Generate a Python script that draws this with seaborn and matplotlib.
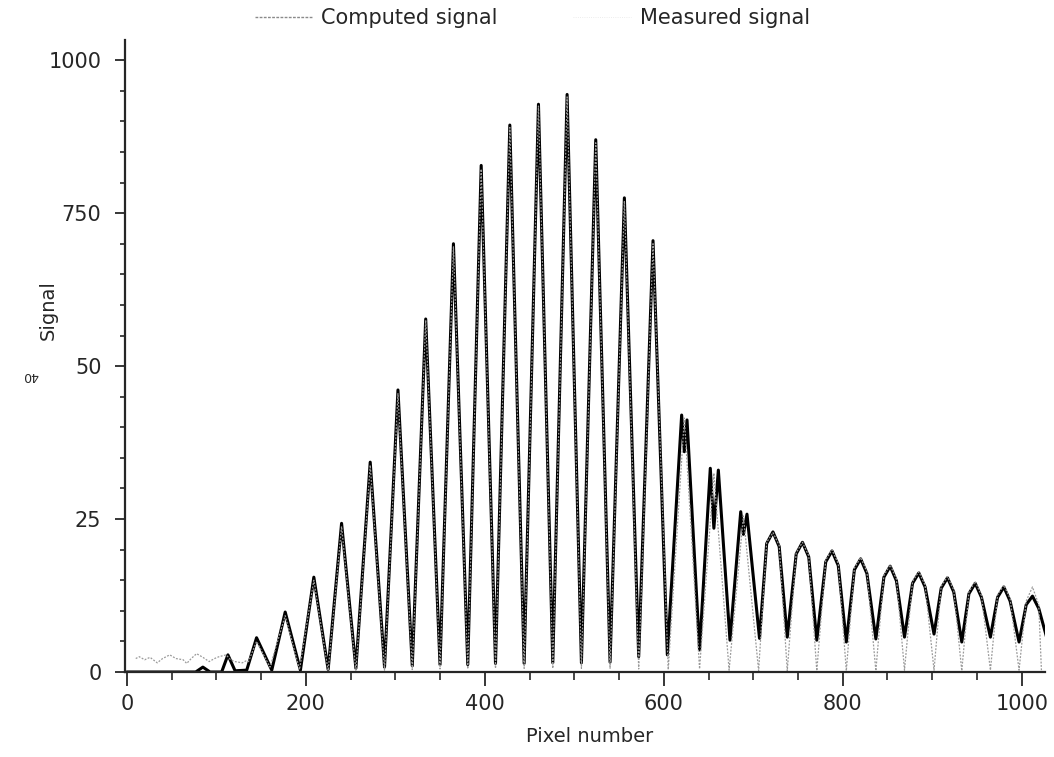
import numpy as np
import pandas as pd
import matplotlib
matplotlib.use("Agg")
import matplotlib.pyplot as plt
from matplotlib.lines import Line2D
from matplotlib.ticker import MultipleLocator, FixedLocator, FixedFormatter
import seaborn as sns

# measured signal (solid) - peaks, troughs and shoulders
meas_peak_x = [85, 113, 145, 177, 209, 240, 272, 303, 334, 365, 396, 428, 460, 492,
               524, 556, 588, 620, 626, 652, 661, 686, 693, 722, 755, 788, 820, 853,
               885, 917, 948, 980, 1012]
meas_peak_y = [8, 28, 56, 98, 155, 243, 343, 461, 577, 700, 828, 894, 928, 944,
               870, 775, 705, 420, 412, 333, 330, 262, 258, 229, 212, 198, 185, 173,
               162, 154, 145, 139, 124]
meas_trough_x = [0, 77, 93, 106, 121, 134, 162, 194, 225, 256, 288, 319, 350, 381,
                 412, 444, 476, 508, 540, 572, 604, 623, 640, 656, 674, 689, 707,
                 738, 771, 804, 837, 869, 902, 933, 965, 997, 1030]
meas_trough_y = [0, 0, 0, 0, 2, 3, 3, 3, 4, 6, 8, 10, 12, 12,
                 14, 14, 15, 15, 16, 25, 28, 360, 36, 235, 52, 225, 55,
                 57, 52, 49, 54, 57, 62, 49, 57, 49, 45]
shoulder_x = [715, 729, 748, 762, 781, 795, 813, 827, 846, 860, 878, 892, 910, 924,
              941, 955, 973, 987, 1005, 1019]
meas_shoulder_y = [210, 205, 193, 188, 180, 174, 167, 161, 155, 149, 145, 139, 137, 131,
                   128, 122, 122, 116, 110, 104]

# computed signal (dotted) - noisy baseline, peaks, troughs
comp_base_x = [10, 14, 20, 26, 34, 40, 48, 55, 63, 67, 72, 78, 85, 92, 98, 103,
               111, 116, 121, 129, 133, 136]
comp_base_y = [22, 25, 20, 24, 15, 22, 28, 22, 20, 14, 22, 30, 24, 17, 22, 25,
               28, 20, 17, 15, 18, 17]
comp_peak_x = [145, 177, 209, 240, 272, 303, 334, 365, 396, 428, 460, 492, 524, 556,
               588, 623, 656, 689, 722, 755, 788, 820, 853, 885, 917, 948, 980, 1012]
comp_peak_y = [50, 92, 150, 238, 338, 455, 575, 695, 822, 890, 925, 940, 865, 770,
               700, 415, 325, 255, 228, 212, 200, 187, 175, 164, 156, 148, 142, 139]
comp_trough_x = [160, 193, 225, 256, 288, 319, 350, 381, 412, 444, 476, 508, 540, 572,
                 605, 640, 673, 706, 738, 771, 804, 837, 869, 902, 933, 965, 997, 1022]
comp_trough_y = [8, 4, 2, 2, 3, 4, 5, 5, 6, 6, 6, 6, 6, 5,
                 4, 5, 3, 2, 2, 2, 2, 2, 3, 3, 2, 3, 3, 3]
comp_shoulder_y = [212, 207, 195, 190, 183, 177, 170, 164, 158, 152, 148, 142, 140, 134,
                   131, 125, 126, 120, 116, 110]

ytick_vals = [0, 250, 500, 750, 1000]
ytick_labels = ["0", "25", "50", "750", "1000"]
xtick_vals = [0, 200, 400, 600, 800, 1000]

measured = pd.DataFrame({
    "pixel": meas_peak_x + meas_trough_x + shoulder_x,
    "signal": meas_peak_y + meas_trough_y + meas_shoulder_y,
}).sort_values("pixel")
computed = pd.DataFrame({
    "pixel": comp_base_x + comp_peak_x + comp_trough_x + shoulder_x,
    "signal": comp_base_y + comp_peak_y + comp_trough_y + comp_shoulder_y,
}).sort_values("pixel")

sns.set_style("ticks")
plt.rcParams["font.family"] = ["DejaVu Sans"]

fig = plt.figure(figsize=(10.54, 7.57), dpi=100)
ax = fig.add_axes([125 / 1054, 1 - 672 / 757, 920 / 1054, 632 / 757])

sns.lineplot(data=measured, x="pixel", y="signal", estimator=None, sort=False,
             color="black", linewidth=2.2, ax=ax)
sns.lineplot(data=computed, x="pixel", y="signal", estimator=None, sort=False,
             color="#9a9a9a", linewidth=0.9, linestyle=(0, (1.5, 1.2)), ax=ax)

ax.set_xlim(-2, 1026)
ax.set_ylim(0, 1033)
ax.xaxis.set_major_locator(FixedLocator(xtick_vals))
ax.xaxis.set_minor_locator(MultipleLocator(50))
ax.yaxis.set_major_locator(FixedLocator(ytick_vals))
ax.yaxis.set_major_formatter(FixedFormatter(ytick_labels))
ax.yaxis.set_minor_locator(MultipleLocator(50))
ax.tick_params(axis="x", which="major", direction="out", length=10, width=1.3,
               labelsize=15, pad=6)
ax.tick_params(axis="x", which="minor", direction="out", length=6, width=1.2)
ax.tick_params(axis="y", which="major", direction="out", length=7, width=1.3,
               labelsize=15, pad=10)
ax.tick_params(axis="y", which="minor", direction="out", length=3.5, width=1.2)

sns.despine(ax=ax)
for side in ["left", "bottom"]:
    ax.spines[side].set_linewidth(1.6)

ax.set_xlabel("Pixel number", fontsize=14)
ax.set_ylabel("Signal", fontsize=14)
ax.xaxis.set_label_coords(0.505, -0.087)
ax.yaxis.set_label_coords(-0.073, 0.573)

handles = [
    Line2D([], [], color="#8a8a8a", linewidth=1.0, linestyle=(0, (2, 1))),
    Line2D([], [], color="#e6e6e6", linewidth=0.6, linestyle=":"),
]
fig.legend(handles, ["Computed signal", "Measured signal"], loc="center",
           bbox_to_anchor=(0.505, 1 - 18 / 757), ncol=2, frameon=False,
           fontsize=15, handlelength=2.8, handletextpad=0.4, columnspacing=3.6)

fig.text(30 / 1054, 1 - 375 / 757, "40", rotation=180, fontsize=9,
         ha="center", va="center")

fig.savefig("out.png", dpi=100)
